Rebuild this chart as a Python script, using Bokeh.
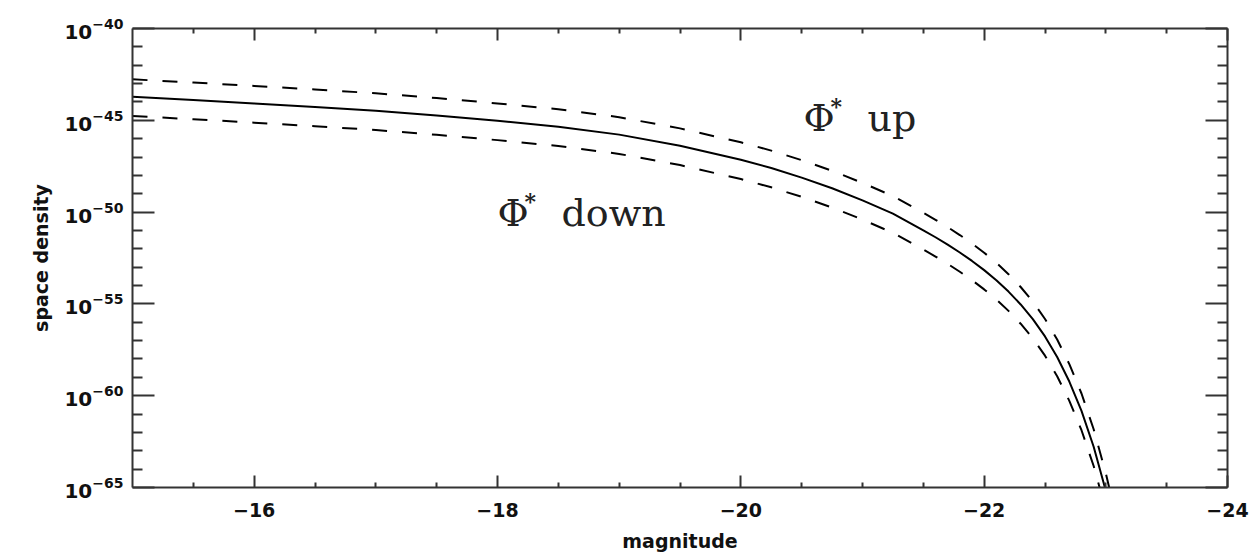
from bokeh.plotting import figure
from bokeh.models import (FixedTicker, LogAxis, LinearAxis, Range1d, Label,
                          CustomJSTickFormatter, LogTickFormatter, ColumnDataSource)
from bokeh.embed import file_html
from bokeh.resources import INLINE

# ---- data (log10 of space density) ----
magnitude = [-15, -15.5, -16, -16.5, -17, -17.5, -18, -18.5, -19, -19.5,
             -20, -20.25, -20.5, -20.75, -21, -21.25, -21.5,
             -21.6, -21.7, -21.8, -21.9, -22.0,
             -22.1, -22.2, -22.3, -22.4, -22.5,
             -22.6, -22.7, -22.8, -22.9, -23.0, -23.1]
log_density_fit = [-43.72, -43.89, -44.08, -44.27, -44.48, -44.74, -45.03, -45.35, -45.78, -46.39,
                   -47.15, -47.6, -48.12, -48.7, -49.36, -50.08, -50.99,
                   -51.37, -51.77, -52.2, -52.66, -53.16,
                   -53.71, -54.33, -55.03, -55.83, -56.77,
                   -57.89, -59.23, -60.83, -62.78, -65.18, -67.98]
log_density_up = [-42.77, -42.94, -43.13, -43.32, -43.53, -43.79, -44.08, -44.4, -44.83, -45.44,
                  -46.2, -46.65, -47.17, -47.75, -48.41, -49.13, -50.04,
                  -50.42, -50.82, -51.25, -51.71, -52.21,
                  -52.76, -53.38, -54.08, -54.88, -55.82,
                  -56.94, -58.28, -59.88, -61.83, -64.23, -67.03]
log_density_down = [-44.77, -44.94, -45.13, -45.32, -45.53, -45.79, -46.08, -46.4, -46.83, -47.44,
                    -48.2, -48.65, -49.17, -49.75, -50.41, -51.13, -52.04,
                    -52.42, -52.82, -53.25, -53.71, -54.21,
                    -54.76, -55.38, -56.08, -56.88, -57.82,
                    -58.94, -60.28, -61.88, -63.83, -66.23, -69.03]

x_major_ticks = [-16, -18, -20, -22, -24]
x_minor_ticks = [-15.5, -16.5, -17, -17.5, -18.5, -19, -19.5, -20.5, -21, -21.5,
                 -22.5, -23, -23.5]
y_major_exponents = [-40, -45, -50, -55, -60, -65]
y_minor_exponents = [e for e in range(-65, -39) if e not in y_major_exponents]

src = ColumnDataSource(dict(
    m=magnitude,
    fit=[10.0 ** v for v in log_density_fit],
    up=[10.0 ** v for v in log_density_up],
    down=[10.0 ** v for v in log_density_down],
))

AX = "#333333"
TICK_FONT = "DejaVu Sans"

p = figure(width=1253, height=554, output_backend="svg", toolbar_location=None,
           x_range=Range1d(-15, -24), y_range=Range1d(1e-65, 1e-40),
           y_axis_type="log",
           min_border_left=132, min_border_right=26, min_border_top=28, min_border_bottom=66)
p.grid.visible = False
p.outline_line_color = None
p.background_fill_color = "white"
p.border_fill_color = "white"

yticker = FixedTicker(ticks=[10.0 ** e for e in y_major_exponents],
                      minor_ticks=[10.0 ** e for e in y_minor_exponents])
xticker = FixedTicker(ticks=x_major_ticks, minor_ticks=x_minor_ticks)

blank = CustomJSTickFormatter(code="return ''")


def style_axis(ax, major_in, minor_in):
    ax.axis_line_color = AX
    ax.axis_line_width = 2
    ax.major_tick_line_color = AX
    ax.minor_tick_line_color = AX
    ax.major_tick_line_width = 2
    ax.minor_tick_line_width = 2
    ax.major_tick_in = major_in
    ax.major_tick_out = 0
    ax.minor_tick_in = minor_in
    ax.minor_tick_out = 0
    ax.major_label_text_font = TICK_FONT
    ax.major_label_text_font_style = "bold"
    ax.major_label_text_font_size = "19px"
    ax.major_label_text_color = "#111111"
    ax.axis_label_text_font = TICK_FONT
    ax.axis_label_text_font_style = "bold"
    ax.axis_label_text_font_size = "19px"
    ax.axis_label_text_color = "#111111"


# left axis
ya = p.yaxis[0]
ya.ticker = yticker
ya.formatter = LogTickFormatter()
ya.axis_label = "space density"
ya.major_label_standoff = 9
ya.axis_label_standoff = 9
style_axis(ya, 22, 10)
ya.major_label_text_font_size = "20px"

# bottom axis
xa = p.xaxis[0]
xa.ticker = xticker
xa.axis_label = "magnitude"
xa.major_label_standoff = 15
xa.axis_label_standoff = 10
style_axis(xa, 12, 5)

# mirror axes
ra = LogAxis(ticker=yticker, formatter=blank)
style_axis(ra, 22, 10)
ra.major_label_standoff = 0
p.add_layout(ra, "right")

ta = LinearAxis(ticker=xticker, formatter=blank)
style_axis(ta, 12, 5)
ta.major_label_standoff = 0
p.add_layout(ta, "above")

# curves
p.line("m", "fit", source=src, line_color="black", line_width=2)
p.line("m", "up", source=src, line_color="black", line_width=2, line_dash="15 15")
p.line("m", "down", source=src, line_color="black", line_width=2, line_dash="15 15")

# annotations
LABEL_FONT = "DejaVu Serif"
LABEL_SIZE = "38px"
annotations = [("up", -20.515, 10.0 ** -44.86), ("down", -18.0, 10.0 ** -50.03)]
for word, lx, ly in annotations:
    p.add_layout(Label(x=lx, y=ly, text="Φ", text_font=LABEL_FONT, text_font_size=LABEL_SIZE,
                       text_baseline="alphabetic", text_align="left", text_color="#222222"))
    p.add_layout(Label(x=lx, y=ly, x_offset=27, y_offset=12, text="*", text_font=LABEL_FONT,
                       text_font_size="22px", text_font_style="bold",
                       text_baseline="alphabetic", text_align="left", text_color="#222222"))
    p.add_layout(Label(x=lx, y=ly, x_offset=64, text=word, text_font=LABEL_FONT,
                       text_font_size=LABEL_SIZE, text_baseline="alphabetic",
                       text_align="left", text_color="#222222"))

open("out.html", "w").write(file_html(p, INLINE))
